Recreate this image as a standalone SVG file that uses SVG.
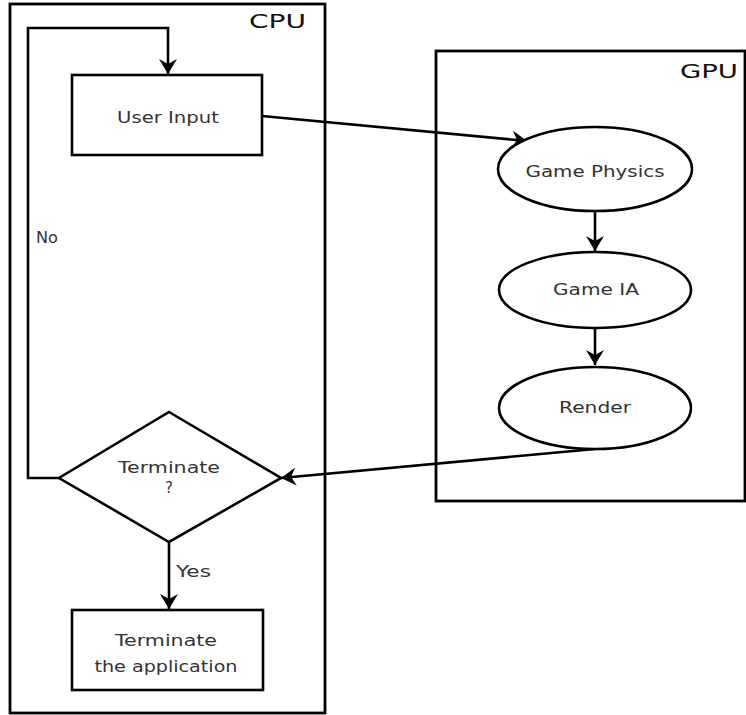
<svg xmlns="http://www.w3.org/2000/svg" width="746" height="715" viewBox="0 0 746 715">
<style>
.box{fill:none;stroke:#000;stroke-width:2.8}
.node{fill:#fff;stroke:#000;stroke-width:2.6}
.edge{fill:none;stroke:#000;stroke-width:2.6}
.lbl{font-family:"DejaVu Sans",sans-serif;font-size:15px;fill:#333;text-anchor:middle}
.lbls{font-family:"DejaVu Sans",sans-serif;font-size:15px;fill:#333}
.title{font-family:"DejaVu Sans",sans-serif;font-size:20px;fill:#111}
</style>
<defs>
<marker id="arr" markerUnits="userSpaceOnUse" markerWidth="18" markerHeight="18" refX="15" refY="9" orient="auto">
<path d="M0,0 L15,9 L0,18 L5,9 z" fill="#000"/>
</marker>
</defs>
<rect width="746" height="715" fill="#fff"/>
<g id="cpu">
<rect class="box" x="10" y="4" width="315" height="709"/>
<text class="title" x="249" y="28" textLength="57" lengthAdjust="spacingAndGlyphs">CPU</text>
</g>
<g id="gpu">
<rect class="box" x="436" y="51" width="309" height="450"/>
<text class="title" x="680" y="78" textLength="58" lengthAdjust="spacingAndGlyphs">GPU</text>
</g>
<g id="connectors">
<polyline class="edge" points="60,478 28,478 28,28 168,28 168,74" marker-end="url(#arr)"/>
<text class="lbls" x="36" y="243" textLength="22" lengthAdjust="spacingAndGlyphs">No</text>
<line class="edge" x1="262" y1="116" x2="527" y2="141" marker-end="url(#arr)"/>
<line class="edge" x1="595" y1="211" x2="595" y2="251" marker-end="url(#arr)"/>
<line class="edge" x1="595" y1="329" x2="595" y2="365" marker-end="url(#arr)"/>
<line class="edge" x1="595" y1="449" x2="281" y2="478" marker-end="url(#arr)"/>
<line class="edge" x1="169" y1="542" x2="169" y2="609" marker-end="url(#arr)"/>
<text class="lbls" x="176" y="577" textLength="35" lengthAdjust="spacingAndGlyphs">Yes</text>
</g>
<g id="user-input">
<rect class="node" x="72" y="75" width="190" height="80"/>
<text class="lbl" x="168" y="123" textLength="102" lengthAdjust="spacingAndGlyphs">User Input</text>
</g>
<g id="game-physics">
<ellipse class="node" cx="595" cy="169" rx="97" ry="42"/>
<text class="lbl" x="595" y="177" textLength="139" lengthAdjust="spacingAndGlyphs">Game Physics</text>
</g>
<g id="game-ia">
<ellipse class="node" cx="595" cy="290" rx="96" ry="38"/>
<text class="lbl" x="596" y="295" textLength="86" lengthAdjust="spacingAndGlyphs">Game IA</text>
</g>
<g id="render">
<ellipse class="node" cx="595" cy="408" rx="96" ry="41"/>
<text class="lbl" x="595" y="413" textLength="72" lengthAdjust="spacingAndGlyphs">Render</text>
</g>
<g id="terminate-decision">
<polygon class="node" points="169,412 281,478 169,542 59,478"/>
<text class="lbl" x="169" y="473" textLength="102" lengthAdjust="spacingAndGlyphs">Terminate</text>
<text class="lbl" x="169" y="493">?</text>
</g>
<g id="terminate-app">
<rect class="node" x="72" y="610" width="191" height="80"/>
<text class="lbl" x="166" y="646" textLength="102" lengthAdjust="spacingAndGlyphs">Terminate</text>
<text class="lbl" x="166" y="672" textLength="143" lengthAdjust="spacingAndGlyphs">the application</text>
</g>
</svg>
